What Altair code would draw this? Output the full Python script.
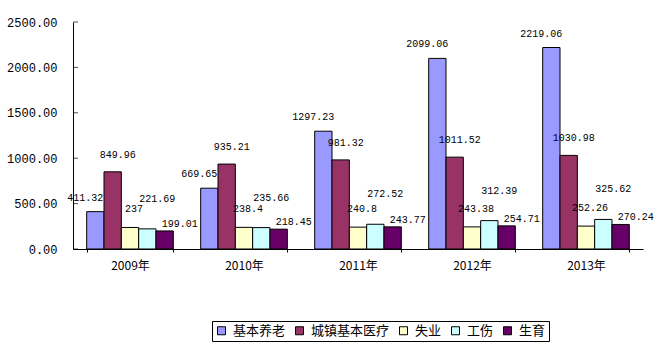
import altair as alt
import pandas as pd

years = ["2009年", "2010年", "2011年", "2012年", "2013年"]
series = ["基本养老", "城镇基本医疗", "失业", "工伤", "生育"]
pension = [411.32, 669.65, 1297.23, 2099.06, 2219.06]
medical = [849.96, 935.21, 981.32, 1011.52, 1030.98]
unemployment = [237, 238.4, 240.8, 243.38, 252.26]
injury = [221.69, 235.66, 272.52, 312.39, 325.62]
maternity = [199.01, 218.45, 243.77, 254.71, 270.24]
y_ticks = [0, 500, 1000, 1500, 2000, 2500]
colors = ["#9999FF", "#993366", "#FFFFCC", "#CCFFFF", "#660066"]

rows = []
for s, vals in zip(series, [pension, medical, unemployment, injury, maternity]):
    for y, v in zip(years, vals):
        rows.append({"year": y, "series": s, "value": v, "label": f"{v:g}"})
df = pd.DataFrame(rows)
tick_df = pd.DataFrame({"value": y_ticks})

# label placement style per series (dx, dy)
label_style = {
    "基本养老": (-10, -14),
    "城镇基本医疗": (5, -17),
    "失业": (4, -18),
    "工伤": (10, -30),
    "生育": (15, -7),
}

x_enc = alt.X(
    "year:N",
    scale=alt.Scale(domain=years, paddingInner=0.24, paddingOuter=0.12),
    axis=alt.Axis(
        title=None, labelAngle=0, tickBand="extent", tickSize=3,
        labelFont="Noto Sans CJK SC", labelFontSize=12, labelPadding=8,
        labelColor="black", domainColor="black", tickColor="black",
    ),
)
xo_enc = alt.XOffset("series:N", scale=alt.Scale(domain=series, paddingInner=0, paddingOuter=0))
y_scale = alt.Scale(domain=[0, 2500], nice=False)
y_enc = alt.Y(
    "value:Q",
    scale=y_scale,
    axis=alt.Axis(
        title=None, values=y_ticks, format=".2f",
        grid=False, tickSize=0, labelPadding=16, labelFont="Liberation Mono",
        labelFontSize=12, labelColor="black", domainColor="black",
    ),
)

base = alt.Chart(df)

bars = base.mark_bar(stroke="black", strokeWidth=1).encode(
    x=x_enc,
    xOffset=xo_enc,
    y=y_enc,
    color=alt.Color(
        "series:N",
        scale=alt.Scale(domain=series, range=colors),
        legend=alt.Legend(
            title=None, orient="none", legendX=139, legendY=299,
            direction="horizontal", columns=5, symbolType="square",
            symbolSize=64, symbolStrokeColor="black", symbolStrokeWidth=1,
            labelFont="Noto Sans CJK SC", labelFontSize=13, labelColor="black",
            labelOffset=5, columnPadding=7, padding=3,
            strokeColor="black", fillColor="white",
        ),
    ),
)

# inward tick marks on the value axis
inner_ticks = alt.Chart(tick_df).mark_tick(
    color="black", size=5, thickness=1, xOffset=2.5
).encode(y=alt.Y("value:Q", scale=y_scale), x=alt.value(0))

layers = [bars, inner_ticks]
for s in series:
    dx, dy = label_style[s]
    layers.append(
        base.transform_filter(alt.datum.series == s)
        .mark_text(dx=dx, dy=dy, baseline="middle", font="Liberation Mono",
                   fontSize=10, color="black")
        .encode(x=x_enc, xOffset=xo_enc, y=y_enc, text="label:N")
    )

chart = (
    alt.layer(*layers)
    .properties(
        width=570, height=227,
        autosize=alt.AutoSizeParams(type="none"),
        padding={"left": 73, "top": 22, "right": 17, "bottom": 106},
        background="white",
    )
    .configure_view(stroke=None)
)

chart.save("out.html", embed_options={"renderer": "svg", "actions": False})
